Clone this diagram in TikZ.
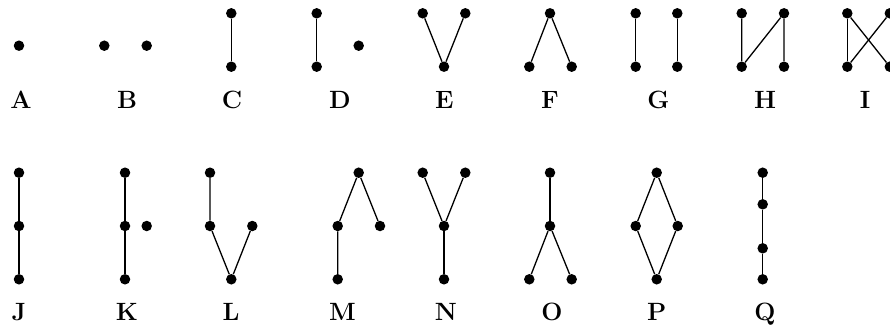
\documentclass[tikz,border=0pt]{standalone}
\begin{document}
\begin{tikzpicture}[x=1pt,y=-1pt,
  dot/.style={circle,fill=black,inner sep=0pt,minimum size=10.5pt},
  edge/.style={line width=1.3pt},
  lab/.style={anchor=base,inner sep=0pt,font=\fontsize{25}{30}\selectfont\bfseries}]
\useasboundingbox (0,0) rectangle (890,326);
% Row 1
\node[dot] (a1) at (19,45.7) {};
\node[dot] (b1) at (104.3,45.7) {};
\node[dot] (b2) at (146.7,45.7) {};
\node[dot] (c1) at (231.3,13.3) {};
\node[dot] (c2) at (231.3,66.7) {};
\node[dot] (d1) at (316.7,13.3) {};
\node[dot] (d2) at (316.7,66.7) {};
\node[dot] (d3) at (358.7,45.7) {};
\node[dot] (e1) at (422.7,13.3) {};
\node[dot] (e2) at (465.3,13.3) {};
\node[dot] (e3) at (444,66.7) {};
\node[dot] (f1) at (550,13.3) {};
\node[dot] (f2) at (529.3,66.7) {};
\node[dot] (f3) at (571.7,66.7) {};
\node[dot] (g1) at (635.7,13.3) {};
\node[dot] (g2) at (635.7,66.7) {};
\node[dot] (g3) at (677.3,13.3) {};
\node[dot] (g4) at (677.3,66.7) {};
\node[dot] (h1) at (741.7,13.3) {};
\node[dot] (h2) at (741.7,66.7) {};
\node[dot] (h3) at (784,13.3) {};
\node[dot] (h4) at (784,66.7) {};
\node[dot] (i1) at (847.3,13.3) {};
\node[dot] (i2) at (847.3,66.7) {};
\node[dot] (i3) at (889.8,13.3) {};
\node[dot] (i4) at (889.8,66.7) {};
\draw[edge] (c1) -- (c2);
\draw[edge] (d1) -- (d2);
\draw[edge] (e1) -- (e3) -- (e2);
\draw[edge] (f2) -- (f1) -- (f3);
\draw[edge] (g1) -- (g2);
\draw[edge] (g3) -- (g4);
\draw[edge] (h1) -- (h2) -- (h3) -- (h4);
\draw[edge] (i1) -- (i2);
\draw[edge] (i1) -- (i4);
\draw[edge] (i2) -- (i3);
\node[lab] (lA) at (21,108) {A};
\node[lab] (lB) at (127,108) {B};
\node[lab] (lC) at (232,108) {C};
\node[lab] (lD) at (340,108) {D};
\node[lab] (lE) at (444.3,108) {E};
\node[lab] (lF) at (550,108) {F};
\node[lab] (lG) at (658.3,108) {G};
\node[lab] (lH) at (765,108) {H};
\node[lab] (lI) at (865,108) {I};
% Row 2
\node[dot] (j1) at (19,172.7) {};
\node[dot] (j2) at (19,226) {};
\node[dot] (j3) at (19,279.3) {};
\node[dot] (k1) at (125,172.7) {};
\node[dot] (k2) at (125,226) {};
\node[dot] (k3) at (125,279.3) {};
\node[dot] (k4) at (146.7,226) {};
\node[dot] (l1) at (210,172.7) {};
\node[dot] (l2) at (210,226) {};
\node[dot] (l3) at (252.3,226) {};
\node[dot] (l4) at (231.3,279.3) {};
\node[dot] (m1) at (358.7,172.7) {};
\node[dot] (m2) at (337.7,226) {};
\node[dot] (m3) at (380,226) {};
\node[dot] (m4) at (337.7,279.3) {};
\node[dot] (n1) at (422.7,172.7) {};
\node[dot] (n2) at (465.3,172.7) {};
\node[dot] (n3) at (444,226) {};
\node[dot] (n4) at (444,279.3) {};
\node[dot] (o1) at (550,172.7) {};
\node[dot] (o2) at (550,226) {};
\node[dot] (o3) at (529.3,279.3) {};
\node[dot] (o4) at (571.7,279.3) {};
\node[dot] (p1) at (656.7,172.7) {};
\node[dot] (p2) at (635.7,226) {};
\node[dot] (p3) at (677.7,226) {};
\node[dot] (p4) at (656.7,279.3) {};
\node[dot] (q1) at (762.7,172.7) {};
\node[dot] (q2) at (762.7,204.3) {};
\node[dot] (q3) at (762.7,248.3) {};
\node[dot] (q4) at (762.7,279.3) {};
\draw[edge] (j1) -- (j2) -- (j3);
\draw[edge] (k1) -- (k2) -- (k3);
\draw[edge] (l1) -- (l2) -- (l4) -- (l3);
\draw[edge] (m4) -- (m2) -- (m1) -- (m3);
\draw[edge] (n1) -- (n3) -- (n2);
\draw[edge] (n3) -- (n4);
\draw[edge] (o1) -- (o2);
\draw[edge] (o3) -- (o2) -- (o4);
\draw[edge] (p1) -- (p2) -- (p4) -- (p3) -- (p1);
\draw[edge] (q1) -- (q2) -- (q3) -- (q4);
\node[lab] (lJ) at (19,320.5) {J};
\node[lab] (lK) at (127,320.5) {K};
\node[lab] (lL) at (231,320.5) {L};
\node[lab] (lM) at (342.5,320.5) {M};
\node[lab] (lN) at (445.8,320.5) {N};
\node[lab] (lO) at (552,320.5) {O};
\node[lab] (lP) at (656.7,320.5) {P};
\node[lab] (lQ) at (765,320.5) {Q};
\end{tikzpicture}
\end{document}
